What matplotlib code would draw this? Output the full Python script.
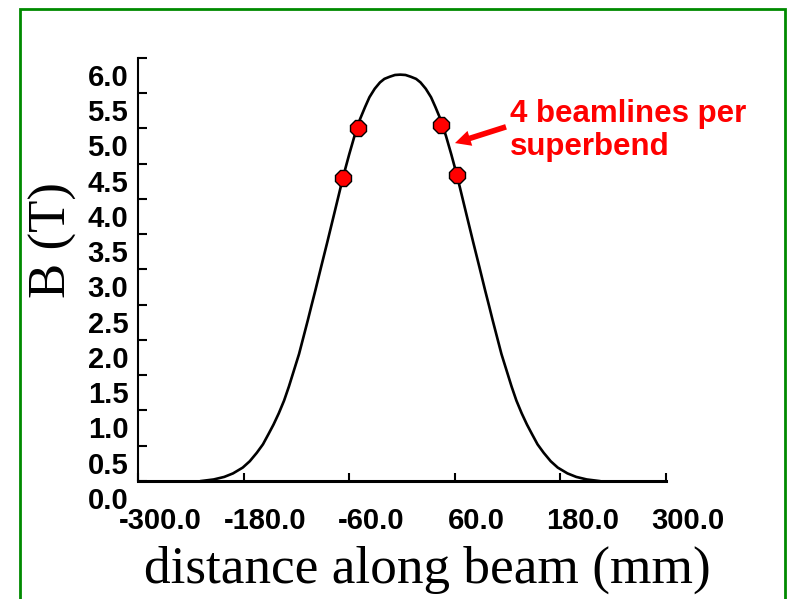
import matplotlib
matplotlib.use("Agg")
import matplotlib.pyplot as plt
from matplotlib.transforms import ScaledTranslation
from matplotlib.patches import Rectangle

# Field profile
distance_mm = [-228, -214, -202, -192, -181, -173, -165, -158, -151.5, -146, -140, -134,
               -128.5, -123, -117, -112, -107, -103, -98.5, -92, -85, -77, -70, -65,
               -60, -54, -48, -42, -37, -31, -25, -20, -14, -8, -2,
               4, 10, 16, 21, 27, 33, 38, 44, 50, 56, 61, 66, 73, 81, 88, 94.5,
               99, 103, 108, 113, 119, 124.5, 130, 136, 142, 147.5, 154, 161, 169,
               177, 188, 198, 210, 224]
field_T = [0.0, 0.022, 0.058, 0.108, 0.19, 0.28, 0.40, 0.52, 0.67, 0.80, 0.96, 1.14,
           1.34, 1.56, 1.80, 2.04, 2.28, 2.48, 2.70, 3.03, 3.38, 3.79, 4.15, 4.40,
           4.63, 4.89, 5.12, 5.30, 5.44, 5.56, 5.65, 5.70, 5.73, 5.755, 5.76,
           5.755, 5.73, 5.70, 5.65, 5.56, 5.44, 5.30, 5.12, 4.89, 4.63, 4.40, 4.15,
           3.79, 3.38, 3.03, 2.70, 2.48, 2.28, 2.04, 1.80, 1.56, 1.34, 1.14, 0.96,
           0.80, 0.67, 0.52, 0.40, 0.28, 0.19, 0.108, 0.058, 0.022, 0.0]

# Beamline source points
beamline_x = [-67.4, -49.7, 44.0, 62.2]
beamline_B = [4.29, 5.00, 5.05, 4.34]

x_ticks = [-300.0, -180.0, -60.0, 60.0, 180.0, 300.0]
y_ticks = [0.0, 0.5, 1.0, 1.5, 2.0, 2.5, 3.0, 3.5, 4.0, 4.5, 5.0, 5.5, 6.0]

annotation_text = "4 beamlines per\nsuperbend"

fig = plt.figure(figsize=(7.9, 5.99), dpi=100)
ax = fig.add_axes([138 / 790, 1 - 481 / 599, 528 / 790, (481 - 57.7) / 599])

ax.plot(distance_mm, field_T, color="black", lw=1.9, zorder=2)
ax.plot(beamline_x, beamline_B, linestyle="none", marker="8", markersize=13,
        markerfacecolor="#ff0000", markeredgecolor="black", markeredgewidth=1.0, zorder=3)

ax.set_xlim(-300, 300)
ax.set_ylim(0, 6)
ax.set_xticks(x_ticks)
ax.set_yticks(y_ticks)
ax.set_xticklabels([f"{v:.1f}" for v in x_ticks])
ax.set_yticklabels([f"{v:.1f}" for v in y_ticks])

for s in ["top", "right"]:
    ax.spines[s].set_visible(False)
ax.spines["left"].set_linewidth(1.5)
ax.spines["bottom"].set_linewidth(2.2)

tick_font = dict(family="Liberation Sans", weight="bold", size=21)
ax.tick_params(axis="y", direction="in", length=6.5, width=1.5, pad=7)
ax.tick_params(axis="x", direction="in", length=6, width=1.5, pad=19)
for lab in ax.get_yticklabels():
    lab.set_fontproperties(tick_font)
    lab.set_transform(lab.get_transform() + ScaledTranslation(0, -0.17, fig.dpi_scale_trans))
for lab in ax.get_xticklabels():
    lab.set_fontproperties(tick_font)
    lab.set_transform(lab.get_transform() + ScaledTranslation(0.22, 0, fig.dpi_scale_trans))

ax.set_xlabel("distance along beam (mm)", family="Liberation Serif", fontsize=38.3)
ax.set_ylabel("B (T)", family="Liberation Serif", fontsize=38)
ax.xaxis.label.set_va("baseline")
ax.xaxis.set_label_coords(0.549, -0.241)
ax.yaxis.label.set_va("center")
ax.yaxis.set_label_coords(-0.161, 0.569)

ax.annotate("", xy=(60.2, 4.79), xytext=(118.2, 5.02),
            arrowprops=dict(arrowstyle="simple,head_length=0.75,head_width=0.75,tail_width=0.27",
                            mutation_scale=15, color="#ff0000", lw=0, shrinkA=0, shrinkB=0))
ax.text(122.7, 5.42, annotation_text, color="#ff0000", family="Liberation Sans",
        weight="bold", fontsize=22.5, ha="left", va="top", linespacing=1.15)

fig.patches.append(Rectangle((20 / 790, -0.05), (785 - 20) / 790, 1 - 9 / 599 + 0.05,
                             transform=fig.transFigure, fill=False,
                             edgecolor="#008a00", linewidth=2.0))

fig.savefig("out.png", dpi=100)
